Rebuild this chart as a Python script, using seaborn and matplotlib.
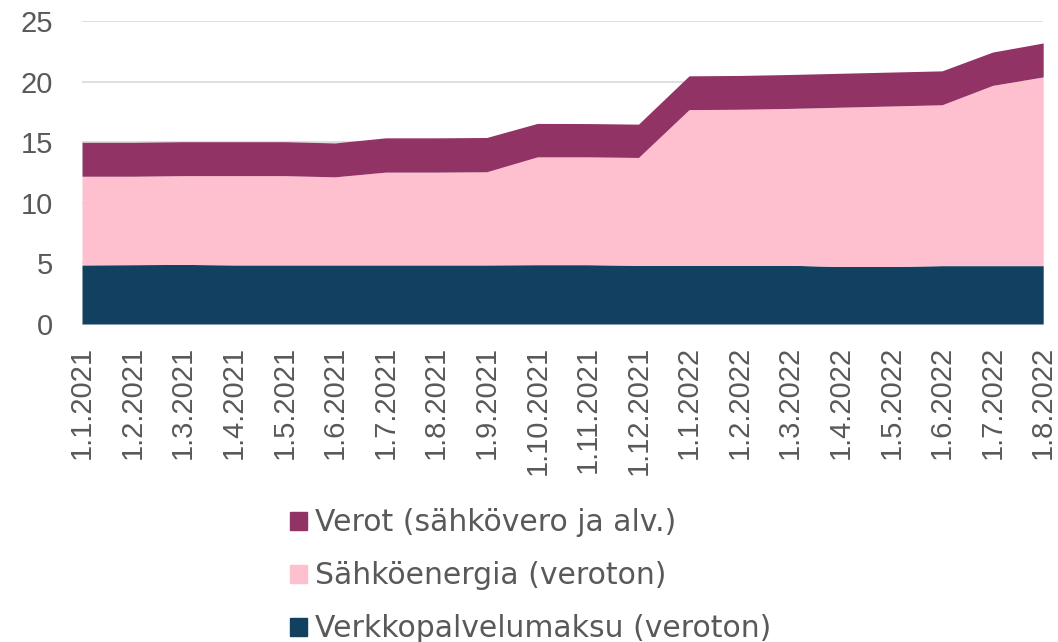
import numpy as np
import matplotlib
matplotlib.use("Agg")
import matplotlib.pyplot as plt
import seaborn as sns
from matplotlib.patches import Patch

months = ['1.1.2021', '1.2.2021', '1.3.2021', '1.4.2021', '1.5.2021', '1.6.2021',
          '1.7.2021', '1.8.2021', '1.9.2021', '1.10.2021', '1.11.2021', '1.12.2021',
          '1.1.2022', '1.2.2022', '1.3.2022', '1.4.2022', '1.5.2022', '1.6.2022',
          '1.7.2022', '1.8.2022']

# cumulative levels
network = [4.88, 4.90, 4.92, 4.88, 4.88, 4.88, 4.88, 4.88, 4.88, 4.90,
           4.90, 4.85, 4.85, 4.85, 4.85, 4.75, 4.75, 4.82, 4.82, 4.82]
energy_top = [12.20, 12.20, 12.25, 12.25, 12.25, 12.15, 12.54, 12.54, 12.57, 13.80,
              13.80, 13.75, 17.70, 17.73, 17.80, 17.90, 18.00, 18.10, 19.70, 20.40]
total = [15.00, 15.00, 15.05, 15.05, 15.05, 14.95, 15.37, 15.37, 15.40, 16.56,
         16.55, 16.50, 20.49, 20.52, 20.60, 20.70, 20.80, 20.90, 22.45, 23.20]

energy = np.array(energy_top) - np.array(network)
taxes = np.array(total) - np.array(energy_top)

labels = ['Verkkopalvelumaksu (veroton)', 'Sähköenergia (veroton)', 'Verot (sähkövero ja alv.)']
colors = ['#124060', '#FEC0CF', '#923366']
text_color = '#595959'

sns.set_style("white")
plt.rcParams['font.family'] = ['Liberation Sans', 'DejaVu Sans']

fig = plt.figure(figsize=(10.58, 6.42), dpi=100)
ax = fig.add_axes([0.0775, 0.4953, 0.9085, 0.4717])

x = np.arange(len(months))
ax.stackplot(x, network, energy, taxes, colors=colors, linewidth=0, zorder=2)

ax.set_xlim(0, len(months) - 1)
ax.set_ylim(0, 25)
ax.set_yticks([0, 5, 10, 15, 20, 25])
ax.set_xticks(x)
ax.set_xticklabels(months, rotation=90)
ax.tick_params(axis='both', length=0, labelsize=21, colors=text_color)
ax.tick_params(axis='x', pad=16)
ax.tick_params(axis='y', pad=21)
ax.grid(axis='y', color='#D9D9D9', linewidth=1.2, zorder=0)
ax.set_axisbelow(True)
for s in ax.spines.values():
    s.set_visible(False)

handles = [Patch(color=colors[2]), Patch(color=colors[1]), Patch(color=colors[0])]
leg = fig.legend(handles, [labels[2], labels[1], labels[0]], loc='upper left',
                 bbox_to_anchor=(0.274, 0.208), frameon=False,
                 prop={'family': 'DejaVu Sans', 'size': 21.5},
                 labelcolor=text_color, handlelength=0.57, handleheight=0.57,
                 handletextpad=0.27, labelspacing=0.8, borderpad=0, borderaxespad=0)

fig.savefig('out.png', dpi=100)
